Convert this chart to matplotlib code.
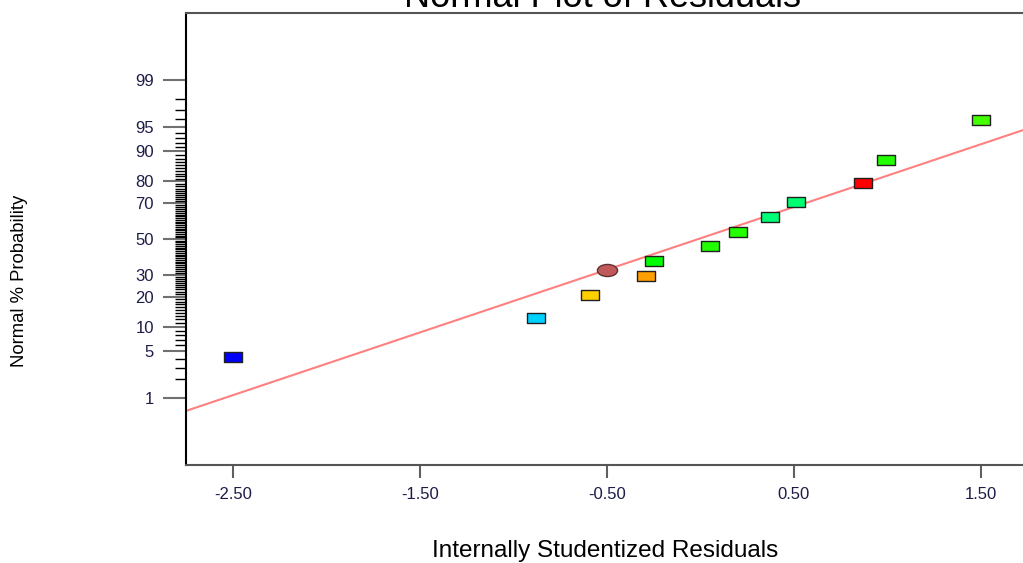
import numpy as np
import matplotlib
matplotlib.use("Agg")
import matplotlib.pyplot as plt
from matplotlib.path import Path
from statistics import NormalDist

plt.rcParams['font.family'] = ['Liberation Sans', 'DejaVu Sans']

# residuals (x) and normal % probability (y)
resid = [-2.50, -0.88, -0.59, -0.29, -0.25, 0.05, 0.20, 0.37, 0.51, 0.87, 0.99, 1.50]
prob = [4.15, 12.4, 20.6, 29.2, 37.6, 45.9, 54.1, 62.6, 70.8, 79.2, 87.6, 95.9]
colors = ['#0000ff', '#00d2ff', '#ffd000', '#ffa000', '#00ff00', '#22ff00',
          '#22ff00', '#00ff78', '#00ff70', '#ff0000', '#22ff00', '#44ff00']

# highlighted point (circle)
sel_x, sel_p = -0.50, 32.5

# reference line: z = slope * x + icpt
slope, icpt = 0.918, 0.01

major_p = [1, 5, 10, 20, 30, 50, 70, 80, 90, 95, 99]
minor_p = [p for p in range(2, 99) if p not in major_p]

nd = NormalDist()
z = lambda p: nd.inv_cdf(p / 100.0)

fig = plt.figure(figsize=(10.23, 5.63), dpi=100)
ax = fig.add_axes([186 / 1023, 98 / 563, 844 / 1023, 452 / 563])

ax.set_xlim(-2.751, 1.762)
ax.set_ylim(-3.307, 3.307)

# fitted line
xl = np.array(ax.get_xlim())
ax.plot(xl, slope * xl + icpt, color='#ff8080', lw=1.5, zorder=2)

# rectangle marker
rect = Path([(-1, -0.55), (1, -0.55), (1, 0.55), (-1, 0.55), (-1, -0.55)],
            [Path.MOVETO, Path.LINETO, Path.LINETO, Path.LINETO, Path.CLOSEPOLY])
for x, p, c in zip(resid, prob, colors):
    ax.plot(x, z(p), marker=rect, ms=13.5, mfc=c, mec='#202020', mew=1.0,
            ls='none', zorder=3)
ax.plot(sel_x, z(sel_p), marker='o', ms=14.5, mfc='#c05a5a', mec='#603030',
        mew=1.0, ls='none', zorder=4, markevery=None)
ax.lines[-1].set_marker(Path.unit_circle().transformed(
    matplotlib.transforms.Affine2D().scale(1.0, 0.6)))

ax.set_xticks([-2.5, -1.5, -0.5, 0.5, 1.5])
ax.set_xticklabels(['-2.50', '-1.50', '-0.50', '0.50', '1.50'])
ax.set_yticks([z(p) for p in major_p])
ax.set_yticklabels([str(p) for p in major_p])
ax.set_yticks([z(p) for p in minor_p], minor=True)

lab_col = '#1c1c48'
ax.tick_params(axis='y', which='major', direction='out', length=16.5, width=1.5,
               color='#707070', pad=6.5, labelsize=12, labelcolor=lab_col)
ax.tick_params(axis='y', which='minor', direction='out', length=8, width=1.0,
               color='#000000')
ax.tick_params(axis='x', which='major', direction='out', length=9, width=1.5,
               color='#606060', pad=7, labelsize=12, labelcolor=lab_col)

for s in ['left']:
    ax.spines[s].set_color('#000000')
    ax.spines[s].set_linewidth(1.5)
for s in ['top', 'bottom']:
    ax.spines[s].set_color('#555555')
    ax.spines[s].set_linewidth(1.5)
ax.spines['right'].set_visible(False)

fig.text(603 / 1023, 1 - 7 / 563, 'Normal Plot of Residuals', ha='center',
         va='baseline', fontsize=26, color='#000000')
fig.text(605 / 1023, 1 - 551 / 563, 'Internally Studentized Residuals',
         ha='center', va='center', fontsize=17.5, color='#000000')
fig.text(20 / 1023, 1 - 281 / 563, 'Normal % Probability', ha='center',
         va='center', rotation=90, fontsize=13.3, color='#000000')

fig.savefig('out.png', dpi=100)
